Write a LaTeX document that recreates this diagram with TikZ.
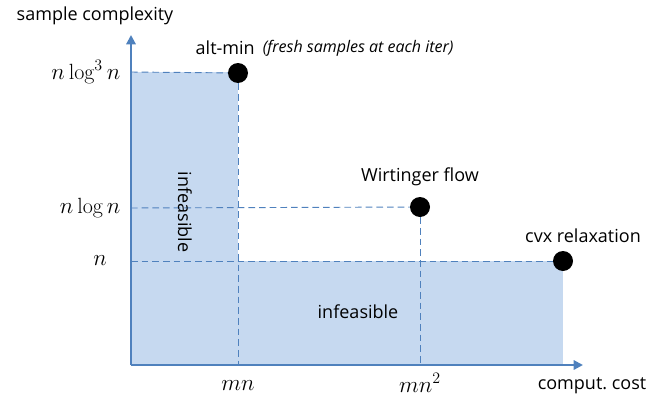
\documentclass[tikz,border=0pt]{standalone}
\usepackage{amsmath}
\usepackage{fontspec}
\newfontfamily\labelfont{Open Sans}
\usepackage{tikz}
\usetikzlibrary{positioning}
\usetikzlibrary{arrows.meta}

\definecolor{axisblue}{RGB}{79,129,189}
\definecolor{regionblue}{RGB}{198,217,240}

\tikzset{
  axisline/.style={axisblue, line width=1.6pt, -{Triangle[length=7pt,width=7pt]}},
  guide/.style={axisblue, dashed, dash pattern=on 5pt off 3pt, line width=0.7pt},
  algo/.style={circle, fill=black, inner sep=0pt, minimum size=15pt},
  lbl/.style={font=\labelfont\fontsize{13.5}{15}\selectfont},
  tick/.style={font=\fontsize{16.5}{19}\selectfont}
}

\begin{document}
\begin{tikzpicture}[x=0.75pt,y=-0.75pt]
\useasboundingbox (0,0) rectangle (654,400);
% infeasible regions
\fill[regionblue] (131,72) rectangle (238,365);
\fill[regionblue] (131,261) rectangle (563,365);
% named points on the axes
\coordinate (O) at (131,365);
\coordinate (ytop) at (131,35);
\coordinate (xend) at (583,365);
\coordinate (y3) at (131,72);
\coordinate (y2) at (131,208);
\coordinate (y1) at (131,261);
\coordinate (x1) at (238,365);
\coordinate (x2) at (420,365);
% algorithms
\node[algo] (altmin) at (238,73) {};
\node[algo] (wf) at (420,207) {};
\node[algo] (cvx) at (563,261) {};
% dashed guides
\draw[guide] (y3) -- (altmin);
\draw[guide] (altmin) -- (x1);
\draw[guide] (y2) -- (wf);
\draw[guide] (wf) -- (x2);
\draw[guide] (y1) -- (cvx);
% axes
\draw[axisline] (O) -- (ytop);
\draw[axisline] (O) -- (xend);
\node[lbl] (ylab) at (95,16) {sample complexity};
\node[lbl] (xlab) at (592,386) {comput.\ cost};
% tick labels
\node[tick, left] at (125,72) {$n\log^3 n$};
\node[tick, left] at (125,208) {$n\log n$};
\node[tick] at (100,261) {$n$};
\node[tick] at (238,386) {$mn$};
\node[tick] at (420,383) {$mn^2$};
% algorithm labels
\node[lbl, anchor=west] (altlab) at (191,48) {alt-min};
\node[anchor=west, font=\labelfont\itshape\fontsize{12}{14}\selectfont] at ([xshift=-1pt]altlab.east) {(fresh samples at each iter)};
\node[lbl] at (420,177) {Wirtinger flow};
\node[lbl] at (583,236) {cvx relaxation};
\node[lbl, rotate=-90] at (185,212) {infeasible};
\node[lbl] at (358,312) {infeasible};
\end{tikzpicture}
\end{document}
